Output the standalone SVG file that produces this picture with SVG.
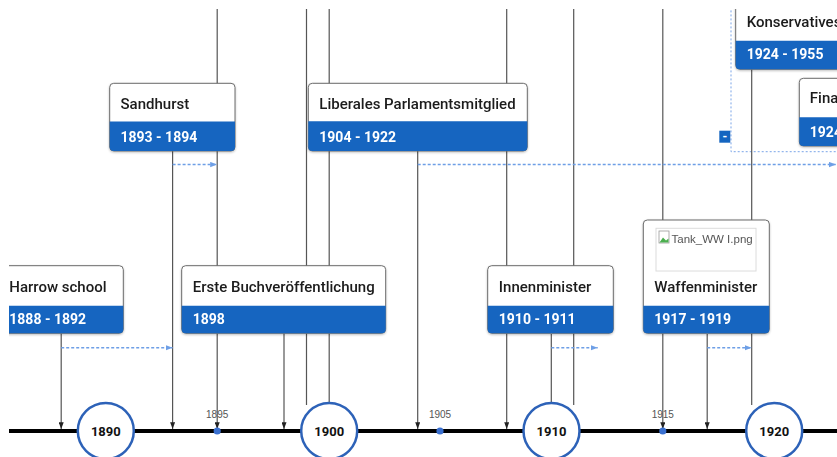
<svg xmlns="http://www.w3.org/2000/svg" width="837" height="457" viewBox="0 0 837 457">
<style>
.bx{fill:#fff;stroke:#6b6b6b;stroke-width:1}
.band{fill:#1565c0}
.title{font-family:Roboto,"Liberation Sans",sans-serif;font-size:15px;font-weight:500;fill:#1a1a1a}
.date{font-family:Roboto,"Liberation Sans",sans-serif;font-size:14px;font-weight:700;fill:#fff}
.conn{stroke:#555;stroke-width:1.2;fill:none}
.dash{stroke:#6e9fe6;stroke-width:1.5;stroke-dasharray:3 2;fill:none}
.axis{stroke:#000;stroke-width:4}
.dec{fill:#fff;stroke:#2d62b8;stroke-width:2.5}
.decl{font-family:Roboto,"Liberation Sans",sans-serif;font-size:13px;font-weight:700;fill:#111;text-anchor:middle}
.tick{fill:#3a70d0}
.tickl{font-family:"Liberation Sans",sans-serif;font-size:10px;fill:#555;text-anchor:middle}
</style>
<defs>
<clipPath id="vp"><rect x="9" y="9" width="828" height="448"/></clipPath>
<marker id="ah" viewBox="0 0 8 6" refX="8" refY="3" markerWidth="7" markerHeight="5" markerUnits="userSpaceOnUse" orient="auto"><path d="M0,0 L8,3 L0,6 Z" fill="#222"/></marker>
<marker id="dh" viewBox="0 0 8 6" refX="8" refY="3" markerWidth="7" markerHeight="6" markerUnits="userSpaceOnUse" orient="auto"><path d="M0,0 L8,3 L0,6 Z" fill="#6e9fe6"/></marker>
<filter id="sh" x="-10%" y="-10%" width="120%" height="130%"><feDropShadow dx="0" dy="1" stdDeviation="1" flood-opacity="0.25"/></filter>
</defs>
<g clip-path="url(#vp)">
<rect id="group-1924" x="731" y="-5" width="200" height="156.7" fill="none" stroke="#7ba5e8" stroke-width="1" stroke-dasharray="2 2"/>
<g id="connectors">
<line class="conn" x1="61.2" y1="333" x2="61.2" y2="429" marker-end="url(#ah)"/>
<line class="conn" x1="172.6" y1="151" x2="172.6" y2="429" marker-end="url(#ah)"/>
<line class="conn" x1="217.2" y1="0" x2="217.2" y2="429" marker-end="url(#ah)"/>
<line class="conn" x1="284" y1="333" x2="284" y2="429" marker-end="url(#ah)"/>
<line class="conn" x1="306.5" y1="0" x2="306.5" y2="405"/>
<line class="conn" x1="329.2" y1="0" x2="329.2" y2="405"/>
<line class="conn" x1="417.7" y1="151" x2="417.7" y2="429" marker-end="url(#ah)"/>
<line class="conn" x1="506.7" y1="0" x2="506.7" y2="429" marker-end="url(#ah)"/>
<line class="conn" x1="551.3" y1="334" x2="551.3" y2="405"/>
<line class="conn" x1="573.7" y1="0" x2="573.7" y2="405"/>
<line class="conn" x1="662.8" y1="0" x2="662.8" y2="429" marker-end="url(#ah)"/>
<line class="conn" x1="707.2" y1="334" x2="707.2" y2="429" marker-end="url(#ah)"/>
<line class="conn" x1="751.7" y1="69" x2="751.7" y2="405"/>
<line class="dash" x1="172.6" y1="164.5" x2="217.2" y2="164.5" marker-end="url(#dh)"/>
<line class="dash" x1="417.7" y1="164.5" x2="836" y2="164.5" marker-end="url(#dh)"/>
<line class="dash" x1="61.2" y1="347.7" x2="172.6" y2="347.7" marker-end="url(#dh)"/>
<line class="dash" x1="551.3" y1="347.7" x2="597.7" y2="347.7" marker-end="url(#dh)"/>
<line class="dash" x1="707.2" y1="347.7" x2="751.7" y2="347.7" marker-end="url(#dh)"/>
</g>
<g id="node-harrow" filter="url(#sh)">
<rect class="bx" x="-2" y="265.7" width="125.3" height="67.6" rx="4"/>
<path class="band" d="M-2,305.7 H123.3 V329.3 Q123.3,333.3 119.3,333.3 H2 Q-2,333.3 -2,329.3 Z"/>
<text class="title" x="9.3" y="291.5">Harrow school</text>
<text class="date" x="9.3" y="324.3">1888 - 1892</text>
</g>
<g id="node-sandhurst" filter="url(#sh)">
<rect class="bx" x="109.7" y="83.3" width="125.3" height="67.7" rx="4"/>
<path class="band" d="M109.7,121.5 H235 V147 Q235,151 231,151 H113.7 Q109.7,151 109.7,147 Z"/>
<text class="title" x="120.5" y="109">Sandhurst</text>
<text class="date" x="120.5" y="142">1893 - 1894</text>
</g>
<g id="node-liberales" filter="url(#sh)">
<rect class="bx" x="308.3" y="83.3" width="219" height="67.7" rx="4"/>
<path class="band" d="M308.3,121.3 H527.3 V147 Q527.3,151 523.3,151 H312.3 Q308.3,151 308.3,147 Z"/>
<text class="title" x="319.3" y="109">Liberales Parlamentsmitglied</text>
<text class="date" x="319.3" y="142">1904 - 1922</text>
</g>
<g id="node-erste" filter="url(#sh)">
<rect class="bx" x="181.7" y="265.7" width="204" height="67.6" rx="4"/>
<path class="band" d="M181.7,305.7 H385.7 V329.3 Q385.7,333.3 381.7,333.3 H185.7 Q181.7,333.3 181.7,329.3 Z"/>
<text class="title" x="192.7" y="291.5">Erste Buchveröffentlichung</text>
<text class="date" x="192.7" y="324.3">1898</text>
</g>
<g id="node-innen" filter="url(#sh)">
<rect class="bx" x="487.7" y="265.7" width="125.6" height="67.6" rx="4"/>
<path class="band" d="M487.7,305.7 H613.3 V329.3 Q613.3,333.3 609.3,333.3 H491.7 Q487.7,333.3 487.7,329.3 Z"/>
<text class="title" x="498.8" y="291.5">Innenminister</text>
<text class="date" x="498.8" y="324.3">1910 - 1911</text>
</g>
<g id="node-waffen" filter="url(#sh)">
<rect class="bx" x="643.3" y="220" width="126" height="113.3" rx="4"/>
<path class="band" d="M643.3,305.7 H769.3 V329.3 Q769.3,333.3 765.3,333.3 H647.3 Q643.3,333.3 643.3,329.3 Z"/>
<rect x="656" y="228.3" width="100" height="42.7" fill="#fff" stroke="#dcdcdc" stroke-width="1"/>
<rect x="659" y="231" width="10" height="12" fill="#fff" stroke="#9a9a9a" stroke-width="0.8"/>
<path d="M659.5,242.5 L663,237.5 L666,240.5 L668.5,238.5 V242.5 Z" fill="#4caf50"/>
<text x="671.5" y="243" font-family="'Liberation Sans',sans-serif" font-size="11.5" fill="#555">Tank_WW I.png</text>
<text class="title" x="654.3" y="291.5">Waffenminister</text>
<text class="date" x="654.3" y="324.3">1917 - 1919</text>
</g>
<g id="node-konservatives" filter="url(#sh)">
<rect class="bx" x="735.7" y="0.7" width="200" height="68.6" rx="4"/>
<path class="band" d="M735.7,40.7 H935.7 V65.3 Q935.7,69.3 931.7,69.3 H739.7 Q735.7,69.3 735.7,65.3 Z"/>
<text class="title" x="746.7" y="26.7">Konservatives</text>
<text class="date" x="746.7" y="59.3">1924 - 1955</text>
</g>
<g id="node-finanz" filter="url(#sh)">
<rect class="bx" x="799.3" y="78.3" width="150" height="67.7" rx="4"/>
<path class="band" d="M799.3,117.3 H949.3 V142 Q949.3,146 945.3,146 H803.3 Q799.3,146 799.3,142 Z"/>
<text class="title" x="809.8" y="103.3">Fina</text>
<text class="date" x="809.8" y="136.5">1924</text>
</g>
<g id="collapse-button">
<rect x="719.3" y="130.7" width="11" height="12" fill="#1565c0"/>
<text x="724.8" y="140.5" font-family="Roboto,'Liberation Sans',sans-serif" font-size="12" font-weight="700" fill="#fff" text-anchor="middle">-</text>
</g>
<g id="axis">
<line class="axis" x1="0" y1="431" x2="837" y2="431"/>
<circle class="tick" cx="217.2" cy="431" r="3.6"/>
<circle class="tick" cx="440" cy="431" r="3.6"/>
<circle class="tick" cx="662.8" cy="431" r="3.6"/>
<text class="tickl" x="217.2" y="417.5">1895</text>
<text class="tickl" x="440" y="417.5">1905</text>
<text class="tickl" x="662.8" y="417.5">1915</text>
</g>
<g id="decade-1890"><circle class="dec" cx="105.8" cy="431" r="28"/><text class="decl" x="105.8" y="435.8">1890</text></g>
<g id="decade-1900"><circle class="dec" cx="329.2" cy="431" r="28"/><text class="decl" x="329.2" y="435.8">1900</text></g>
<g id="decade-1910"><circle class="dec" cx="551.5" cy="431" r="28"/><text class="decl" x="551.5" y="435.8">1910</text></g>
<g id="decade-1920"><circle class="dec" cx="774.2" cy="431" r="28"/><text class="decl" x="774.2" y="435.8">1920</text></g>
</g>
</svg>
